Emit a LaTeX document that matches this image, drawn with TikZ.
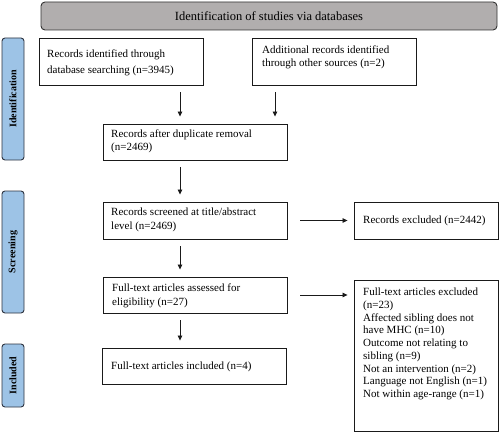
\documentclass[tikz,border=0pt]{standalone}
\usepackage{fontspec}
\setmainfont{Liberation Serif}
\usetikzlibrary{arrows.meta}
\definecolor{sidefill}{HTML}{9DC3E6}
\definecolor{sideline}{HTML}{2E3440}
\definecolor{titlefill}{HTML}{B1AEAE}
\definecolor{boxline}{HTML}{1A1A1A}
\begin{document}
\begin{tikzpicture}[x=1pt,y=-1pt,
  box/.style={draw=boxline, line width=0.9pt, inner sep=0pt, fill=white},
  txt/.style={font=\fontsize{11}{14}\selectfont, align=left, inner sep=0pt, anchor=west},
  side/.style={draw=sideline, fill=sidefill, line width=0.9pt, rounded corners=3pt,
    rotate=90, minimum height=22pt, inner sep=0pt, font=\fontsize{10}{12}\selectfont\bfseries},
  titlebox/.style={draw=black!80, fill=titlefill, line width=0.9pt, rounded corners=4pt,
    inner sep=0pt, font=\fontsize{12.5}{15}\selectfont},
  arr/.style={draw=boxline, line width=0.8pt, -{Triangle[length=5pt,width=4.5pt]}},
  varr/.style={arr, shorten <=7pt, shorten >=7pt},
  harr/.style={arr, shorten <=13pt, shorten >=6pt}]
\useasboundingbox (0,0) rectangle (500,433);

% title bar
\node[titlebox, minimum width=456pt, minimum height=28pt] (title) at (269,16) {Identification of studies via databases};

% side bars
\node[side, minimum width=122pt] (sideid) at (13,99) {Identification};
\node[side, minimum width=122pt] (sidesc) at (13,252) {Screening};
\node[side, minimum width=63pt] (sidein) at (13,375.5) {Included};

% boxes
\node[box, minimum width=164pt, minimum height=47pt] (b1) at (121,61.5) {};
\node[box, minimum width=164pt, minimum height=47pt] (b2) at (334,61.5) {};
\node[box, minimum width=184pt, minimum height=36pt] (b3) at (195,142) {};
\node[box, minimum width=184pt, minimum height=37pt] (b4) at (195,220.5) {};
\node[box, minimum width=144pt, minimum height=37pt] (ex1) at (426,220.5) {};
\node[box, minimum width=184pt, minimum height=36pt] (b5) at (195,295) {};
\node[box, minimum width=144pt, minimum height=151pt] (ex2) at (426,355.5) {};
\node[box, minimum width=184pt, minimum height=36pt] (b6) at (194,366) {};

% texts
\node[txt, font=\fontsize{11}{15.5}\selectfont] (t1) at (47,63) {Records identified through\\database searching (n=3945)};
\node[txt, font=\fontsize{11}{13.3}\selectfont] (t2) at (262,57) {Additional records identified\\through other sources (n=2)};
\node[txt, font=\fontsize{11}{12.5}\selectfont] (t3) at (111,141.5) {Records after duplicate removal\\(n=2469)};
\node[txt] (t4) at (111,220) {Records screened at title/abstract\\level (n=2469)};
\node[txt] (tx1) at (363,221) {Records excluded (n=2442)};
\node[txt] (t5) at (112,296) {Full-text articles assessed for\\eligibility (n=27)};
\node[txt, font=\fontsize{11}{12.75}\selectfont] (tx2) at (363,344) {Full-text articles excluded\\(n=23)\\Affected sibling does not\\have MHC (n=10)\\Outcome not relating to\\sibling (n=9)\\Not an intervention (n=2)\\Language not English (n=1)\\Not within age-range (n=1)};
\node[txt] (t6) at (111,367) {Full-text articles included (n=4)};

% arrows
\coordinate (colA) at (180,0);
\coordinate (colB) at (275,0);
\draw[varr] (b1.south -| colA) -- (b3.north -| colA);
\draw[varr] (b2.south -| colB) -- (b3.north -| colB);
\draw[varr] (b3.south -| colA) -- (b4.north -| colA);
\draw[varr] (b4.south -| colA) -- (b5.north -| colA);
\draw[varr] (b5.south -| colA) -- (b6.north -| colA);
\draw[harr] (b4.east) -- (b4.east -| ex1.west);
\draw[harr] (b5.east) -- (b5.east -| ex2.west);
\end{tikzpicture}
\end{document}
